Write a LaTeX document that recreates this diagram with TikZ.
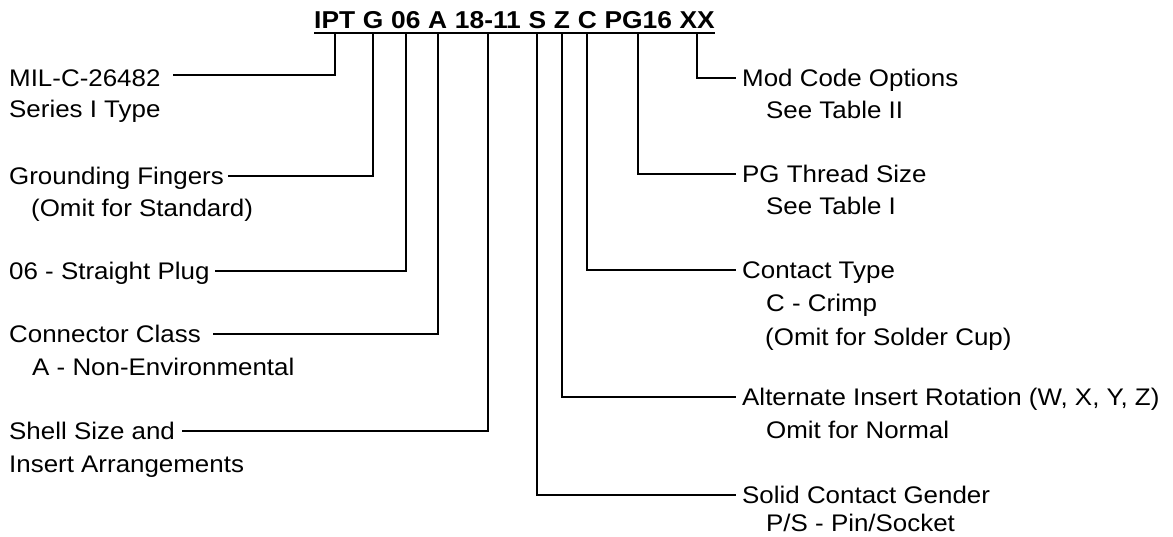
\documentclass[tikz,border=0pt]{standalone}
\usepackage{fontspec}
\setmainfont{Liberation Sans}[FakeStretch=1.08]
\begin{document}
\begin{tikzpicture}[x=1pt,y=-1pt,
  lbl/.style={font=\fontsize{24}{30}\selectfont, inner sep=0pt, text height=17pt, text depth=0pt, anchor=base west},
  tok/.style={font=\fontsize{24.4}{30}\selectfont\bfseries, inner sep=0pt, text height=17pt, text depth=0pt, anchor=base west},
  conn/.style={line width=2pt, black}]
\useasboundingbox (0,0) rectangle (1173,537);
% title tokens
\node[tok] (t1) at (314,29) {IPT};
\node[tok] (t2) at ([xshift=7.33pt]t1.base east) {G};
\node[tok] (t3) at ([xshift=7.33pt]t2.base east) {06};
\node[tok] (t4) at ([xshift=7.33pt]t3.base east) {A};
\node[tok] (t5) at ([xshift=7.33pt]t4.base east) {18-11};
\node[tok] (t6) at ([xshift=7.33pt]t5.base east) {S};
\node[tok] (t7) at ([xshift=7.33pt]t6.base east) {Z};
\node[tok] (t8) at ([xshift=7.33pt]t7.base east) {C};
\node[tok] (t9) at ([xshift=7.33pt]t8.base east) {PG16};
\node[tok] (t10) at ([xshift=7.33pt]t9.base east) {XX};
\draw[conn] ([yshift=-4pt]t1.base west) -- ([yshift=-4pt]t10.base east);
\coordinate (ul) at (0,33);
% left labels
\node[lbl] (mil) at (9,87) {MIL-C-26482};
\node[lbl] (ser) at (9,118) {Series I Type};
\node[lbl] (gnd) at (9,185) {Grounding Fingers};
\node[lbl] (omit) at (31,217) {(Omit for Standard)};
\node[lbl] (str) at (9,280) {06 - Straight Plug};
\node[lbl] (cls) at (9,343) {Connector Class};
\node[lbl] (nenv) at (32,376) {A - Non-Environmental};
\node[lbl] (shl) at (9,439) {Shell Size and};
\node[lbl] (ins) at (9,472) {Insert Arrangements};
% right labels
\node[lbl] (mod) at (742,87) {Mod Code Options};
\node[lbl] (see2) at (766,119) {See Table II};
\node[lbl] (pgt) at (742,183) {PG Thread Size};
\node[lbl] (see1) at (766,215) {See Table I};
\node[lbl] (cty) at (742,279) {Contact Type};
\node[lbl] (crimp) at (766,312) {C - Crimp};
\node[lbl] (solder) at (765,345) {(Omit for Solder Cup)};
\node[lbl] (alt) at (742,405) {Alternate Insert Rotation (W, X, Y, Z)};
\node[lbl] (normal) at (766,438) {Omit for Normal};
\node[lbl] (gen) at (742,503) {Solid Contact Gender};
\node[lbl] (ps) at (766,531) {P/S - Pin/Socket};
% connectors
\draw[conn] (t1.south |- ul) |- ([xshift=12pt,yshift=3.5pt]mil.east);
\draw[conn] (t2.south |- ul) |- ([xshift=4pt]gnd.east);
\draw[conn] (t3.south |- ul) |- ([xshift=5pt]str.east);
\draw[conn] (t4.south |- ul) |- ([xshift=12pt]cls.east);
\draw[conn] (t5.south |- ul) |- ([xshift=7pt]shl.east);
\draw[conn] (t6.south |- ul) |- ([xshift=-6pt]gen.west);
\draw[conn] (t7.south |- ul) |- ([xshift=-6pt]alt.west);
\draw[conn] (t8.south |- ul) |- ([xshift=-6pt]cty.west);
\draw[conn] (t9.south |- ul) |- ([xshift=-6pt]pgt.west);
\draw[conn] (t10.south |- ul) |- ([xshift=-6pt]mod.west);
\end{tikzpicture}
\end{document}
